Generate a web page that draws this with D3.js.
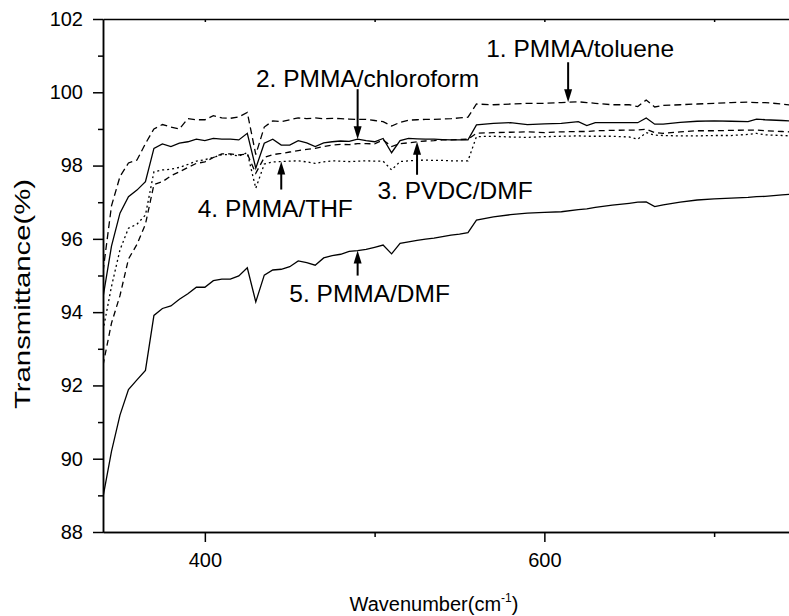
<!DOCTYPE html>
<html>
<head>
<meta charset="utf-8">
<script src="https://cdn.jsdelivr.net/npm/d3@7"></script>
<style>
  body { margin: 0; background: #fff; }
  svg { display: block; font-family: "Liberation Sans", Arial, Helvetica, sans-serif; }
  .axis text { font-size: 20px; fill: #000; }
  .axis path, .axis line { stroke: #000; stroke-width: 1.5; }
  .curve { fill: none; stroke: #000; stroke-width: 1.3; }
  .note { font-size: 24.5px; fill: #000; }
</style>
</head>
<body>
<div id="d3-container"></div>
<script>
/* CONSTANTS AND GLOBALS */
const width = 789,
  height = 616,
  margin = { top: 19, bottom: 84, left: 103, right: -10 };

/* DATA */
// wavenumber grid (cm-1), shared by all five spectra
const wavenumber = [
  340, 345, 350, 355, 360, 365, 370, 375, 380, 385, 390, 395, 400, 405, 410, 415, 420, 425, 430, 435,
  440, 445, 450, 455, 460, 465, 470, 475, 480, 485, 490, 495, 500, 505, 510, 515, 520, 525, 530, 535,
  540, 545, 550, 555, 560, 570, 580, 590, 600, 610, 620, 625, 630, 640, 650, 655, 660, 665, 670, 680,
  690, 700, 710, 720, 725, 730, 740, 745
];

// 1. PMMA/toluene
const pmmaToluene = [
  95.1, 96.9, 97.7, 98.07, 98.15, 98.6, 99.0, 99.12, 99.05, 99.0, 99.28, 99.25, 99.25, 99.36, 99.3, 99.29, 99.33, 99.45, 98.3, 99.05,
  99.22, 99.2, 99.25, 99.3, 99.28, 99.3, 99.28, 99.29, 99.28, 99.27, 99.26, 99.26, 99.23, 99.2, 99.08, 99.18, 99.24, 99.25, 99.26, 99.26,
  99.27, 99.28, 99.3, 99.32, 99.68, 99.66, 99.68, 99.7, 99.7, 99.72, 99.74, 99.72, 99.7, 99.66, 99.66, 99.61, 99.79, 99.6, 99.64, 99.66,
  99.68, 99.7, 99.72, 99.73, 99.72, 99.72, 99.68, 99.65
];

// 2. PMMA/chloroform
const pmmaChloroform = [
  94.4, 95.8, 96.7, 97.15, 97.33, 97.56, 98.47, 98.59, 98.52, 98.61, 98.65, 98.72, 98.68, 98.74, 98.72, 98.72, 98.7, 98.88, 97.93, 98.61,
  98.72, 98.56, 98.56, 98.68, 98.62, 98.52, 98.62, 98.65, 98.67, 98.66, 98.72, 98.68, 98.65, 98.74, 98.35, 98.68, 98.74, 98.73, 98.72, 98.72,
  98.71, 98.7, 98.7, 98.7, 99.11, 99.15, 99.17, 99.12, 99.14, 99.15, 99.2, 99.09, 99.17, 99.17, 99.17, 99.17, 99.3, 99.13, 99.13, 99.18,
  99.21, 99.22, 99.21, 99.2, 99.27, 99.25, 99.23, 99.22
];

// 3. PVDC/DMF
const pvdcDmf = [
  92.55, 93.7, 94.45, 95.45, 95.85, 96.4, 97.48, 97.56, 97.72, 97.83, 97.95, 98.06, 98.1, 98.22, 98.32, 98.32, 98.29, 98.32, 97.79, 98.22,
  98.3, 98.33, 98.37, 98.41, 98.44, 98.47, 98.52, 98.56, 98.58, 98.57, 98.6, 98.6, 98.59, 98.7, 98.52, 98.6, 98.62, 98.65, 98.67, 98.68,
  98.7, 98.7, 98.71, 98.72, 98.88, 98.9, 98.91, 98.92, 98.9, 98.92, 98.93, 98.93, 98.95, 98.96, 98.97, 98.97, 98.99, 98.9, 98.88, 98.92,
  98.95, 98.95, 98.96, 98.97, 98.97, 98.95, 98.93, 98.92
];

// 4. PMMA/THF
const pmmaThf = [
  93.5, 94.7, 95.7, 96.29, 96.4, 96.65, 97.83, 97.88, 97.9, 97.95, 98.03, 98.12, 98.16, 98.22, 98.3, 98.3, 98.26, 98.35, 97.38, 98.04,
  98.1, 98.11, 98.12, 98.13, 98.1, 98.06, 98.1, 98.13, 98.12, 98.11, 98.12, 98.13, 98.12, 98.12, 97.88, 98.11, 98.13, 98.14, 98.15, 98.14,
  98.14, 98.13, 98.13, 98.13, 98.79, 98.8, 98.78, 98.77, 98.79, 98.8, 98.81, 98.8, 98.8, 98.8, 98.78, 98.72, 98.9, 98.83, 98.82, 98.81,
  98.81, 98.82, 98.82, 98.85, 98.88, 98.84, 98.82, 98.81
];

// 5. PMMA/DMF
const pmmaDmf = [
  88.95, 90.2, 91.19, 91.89, 92.15, 92.41, 93.91, 94.1, 94.17, 94.35, 94.5, 94.68, 94.68, 94.86, 94.9, 94.9, 94.99, 95.21, 94.28, 95.01,
  95.15, 95.17, 95.24, 95.4, 95.35, 95.28, 95.48, 95.54, 95.58, 95.66, 95.68, 95.71, 95.77, 95.83, 95.59, 95.88, 95.92, 95.96, 95.99, 96.02,
  96.06, 96.1, 96.13, 96.17, 96.51, 96.6, 96.66, 96.7, 96.72, 96.74, 96.8, 96.82, 96.86, 96.92, 96.97, 97.0, 97.01, 96.88, 96.93, 97.0,
  97.06, 97.09, 97.11, 97.13, 97.15, 97.16, 97.2, 97.22
];

const seriesValues = [pmmaToluene, pmmaChloroform, pvdcDmf, pmmaThf, pmmaDmf];
const seriesLabels = ["1. PMMA/toluene", "2. PMMA/chloroform", "3. PVDC/DMF", "4. PMMA/THF", "5. PMMA/DMF"];
// wavenumber each label's arrow points at
const arrowAt = [614, 490, 525, 445, 490];

const xMajorTicks = [400, 600];
const xMinorTicks = [500, 700];
const yMajorTicks = [88, 90, 92, 94, 96, 98, 100, 102];
const yMinorTicks = [89, 91, 93, 95, 97, 99, 101];

// line styles per series (dash pattern)
const dashes = ["7,4", null, "6,4", "2,3", null];
// annotation layout: arrow direction, arrow length, text shift from arrow, text baseline offset from arrow tail
const noteLayout = [
  { dir: -1, len: 40, dx: 12, dy: -5 },
  { dir: -1, len: 50, dx: 10, dy: -2 },
  { dir: 1, len: 33, dx: 38, dy: 24 },
  { dir: 1, len: 28, dx: -6, dy: 27 },
  { dir: 1, len: 25, dx: 12, dy: 26 }
];

let svg, xScale, yScale;

init();

function init() {
  xScale = d3.scaleLinear()
    .domain([340, 750])
    .range([margin.left, width - margin.right]);

  yScale = d3.scaleLinear()
    .domain([88, 102])
    .range([height - margin.bottom, margin.top]);

  svg = d3.select("#d3-container")
    .append("svg")
    .attr("width", width)
    .attr("height", height);

  svg.append("clipPath")
    .attr("id", "plot-clip")
    .append("rect")
    .attr("x", margin.left)
    .attr("y", margin.top)
    .attr("width", width - margin.right - margin.left)
    .attr("height", height - margin.bottom - margin.top);

  const bottomY = height - margin.bottom;

  // + AXES
  svg.append("g")
    .attr("class", "axis x-axis")
    .attr("transform", `translate(0,${bottomY})`)
    .call(d3.axisBottom(xScale).tickValues(xMajorTicks).tickSize(10).tickSizeOuter(0).tickPadding(11));

  svg.append("g")
    .attr("class", "axis x-axis-minor")
    .attr("transform", `translate(0,${bottomY})`)
    .call(d3.axisBottom(xScale).tickValues(xMinorTicks).tickSize(5).tickSizeOuter(0).tickFormat(""));

  svg.append("g")
    .attr("class", "axis x-axis-top")
    .attr("transform", `translate(0,${margin.top})`)
    .call(d3.axisTop(xScale).tickValues(xMajorTicks.concat(xMinorTicks)).tickSize(-3).tickSizeOuter(0).tickFormat(""));

  svg.append("g")
    .attr("class", "axis y-axis")
    .attr("transform", `translate(${margin.left},0)`)
    .call(d3.axisLeft(yScale).tickValues(yMajorTicks).tickSize(10).tickSizeOuter(0).tickPadding(10));

  svg.append("g")
    .attr("class", "axis y-axis-minor")
    .attr("transform", `translate(${margin.left},0)`)
    .call(d3.axisLeft(yScale).tickValues(yMinorTicks).tickSize(5).tickSizeOuter(0).tickFormat(""));

  // axis titles
  const xTitle = svg.append("text")
    .attr("class", "axis-label")
    .attr("x", 434)
    .attr("y", 611)
    .attr("text-anchor", "middle")
    .attr("font-size", 20)
    .text("Wavenumber(cm");
  xTitle.append("tspan")
    .attr("font-size", 12)
    .attr("dy", -9)
    .text("-1");
  xTitle.append("tspan")
    .attr("dy", 9)
    .text(")");

  // y title is drawn stretched along its length, as in the original figure
  svg.append("text")
    .attr("class", "axis-label")
    .attr("transform", `translate(30,294) rotate(-90)`)
    .attr("text-anchor", "middle")
    .attr("font-size", 22)
    .attr("textLength", 230)
    .attr("lengthAdjust", "spacingAndGlyphs")
    .text("Transmittance(%)");

  draw();
}

function valueAt(values, w) {
  const i = d3.bisectLeft(wavenumber, w);
  if (wavenumber[i] === w) return values[i];
  const t = (w - wavenumber[i - 1]) / (wavenumber[i] - wavenumber[i - 1]);
  return values[i - 1] + t * (values[i] - values[i - 1]);
}

function draw() {
  const line = d3.line()
    .x((d, i) => xScale(wavenumber[i]))
    .y(d => yScale(d));

  svg.append("g")
    .attr("clip-path", "url(#plot-clip)")
    .selectAll("path.curve")
    .data(seriesValues)
    .join("path")
    .attr("class", "curve")
    .attr("stroke-dasharray", (d, i) => dashes[i])
    .attr("d", d => line(d));

  // + ANNOTATIONS
  const notes = svg.selectAll("g.note-group")
    .data(seriesLabels)
    .join("g")
    .attr("class", "note-group")
    .attr("transform", (d, i) => {
      const tx = xScale(arrowAt[i]);
      const ty = yScale(valueAt(seriesValues[i], arrowAt[i]));
      return `translate(${tx},${ty})`;
    });

  notes.append("line")
    .attr("x1", 0)
    .attr("x2", 0)
    .attr("y1", (d, i) => noteLayout[i].dir * 10)
    .attr("y2", (d, i) => noteLayout[i].dir * noteLayout[i].len)
    .attr("stroke", "#000")
    .attr("stroke-width", 2);

  notes.append("path")
    .attr("d", (d, i) => {
      const s = noteLayout[i].dir;
      return `M0,0 L-4,${13 * s} L4,${13 * s} Z`;
    })
    .attr("fill", "#000");

  notes.append("text")
    .attr("class", "note")
    .attr("text-anchor", "middle")
    .attr("x", (d, i) => noteLayout[i].dx)
    .attr("y", (d, i) => noteLayout[i].dir * noteLayout[i].len + noteLayout[i].dy)
    .text(d => d);
}
</script>
</body>
</html>
